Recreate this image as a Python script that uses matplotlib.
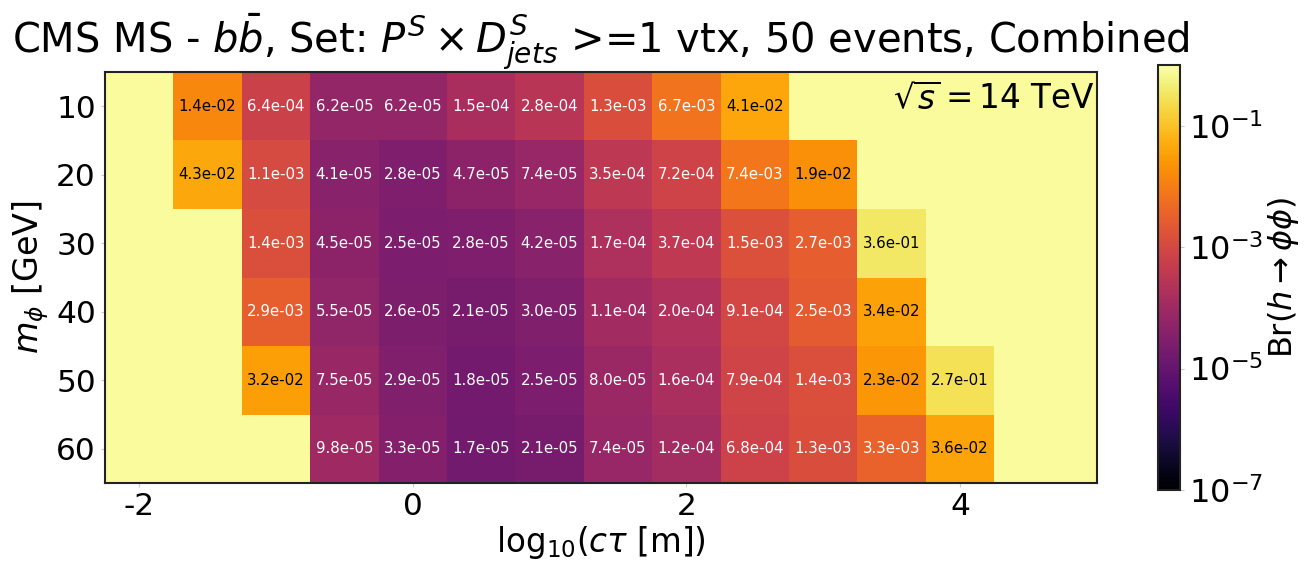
import numpy as np
import matplotlib
matplotlib.use("Agg")
import matplotlib.pyplot as plt
from matplotlib.colors import LogNorm

plt.rcParams['axes.unicode_minus'] = False

# bin centres
log_ctau = [-2.0, -1.5, -1.0, -0.5, 0.0, 0.5, 1.0, 1.5, 2.0, 2.5, 3.0, 3.5, 4.0, 4.5]
masses = [10, 20, 30, 40, 50, 60]

nan = np.nan
br_m10 = [nan, 1.4e-02, 6.4e-04, 6.2e-05, 6.2e-05, 1.5e-04, 2.8e-04, 1.3e-03, 6.7e-03, 4.1e-02, nan, nan, nan, nan]
br_m20 = [nan, 4.3e-02, 1.1e-03, 4.1e-05, 2.8e-05, 4.7e-05, 7.4e-05, 3.5e-04, 7.2e-04, 7.4e-03, 1.9e-02, nan, nan, nan]
br_m30 = [nan, nan, 1.4e-03, 4.5e-05, 2.5e-05, 2.8e-05, 4.2e-05, 1.7e-04, 3.7e-04, 1.5e-03, 2.7e-03, 3.6e-01, nan, nan]
br_m40 = [nan, nan, 2.9e-03, 5.5e-05, 2.6e-05, 2.1e-05, 3.0e-05, 1.1e-04, 2.0e-04, 9.1e-04, 2.5e-03, 3.4e-02, nan, nan]
br_m50 = [nan, nan, 3.2e-02, 7.5e-05, 2.9e-05, 1.8e-05, 2.5e-05, 8.0e-05, 1.6e-04, 7.9e-04, 1.4e-03, 2.3e-02, 2.7e-01, nan]
br_m60 = [nan, nan, nan, 9.8e-05, 3.3e-05, 1.7e-05, 2.1e-05, 7.4e-05, 1.2e-04, 6.8e-04, 1.3e-03, 3.3e-03, 3.6e-02, nan]

br = np.array([br_m10, br_m20, br_m30, br_m40, br_m50, br_m60])

xc = np.array(log_ctau)
yc = np.array(masses, dtype=float)
x_edges = np.append(xc - 0.25, xc[-1] + 0.25)
y_edges = np.append(yc - 5, yc[-1] + 5)

fig = plt.figure(figsize=(13.12, 5.71), dpi=100)
ax = fig.add_axes([0.080, 0.154, 0.756, 0.720])
cax = fig.add_axes([0.8826, 0.142, 0.0168, 0.744])

cmap = plt.get_cmap('inferno')
norm = LogNorm(vmin=1e-7, vmax=1)
ax.set_facecolor('#f9fb9d')
mesh = ax.pcolormesh(x_edges, y_edges, np.ma.masked_invalid(br), cmap=cmap, norm=norm)

for i, m in enumerate(masses):
    for j, x in enumerate(log_ctau):
        v = br[i, j]
        if np.isnan(v):
            continue
        col = 'black' if v > 1e-2 else 'white'
        ax.text(x, m, '%.1e' % v, ha='center', va='center', fontsize=10.8, color=col)

ax.set_xlim(-2.25, 5.0)
ax.set_ylim(65, 5)
ax.set_xticks([-2, 0, 2, 4])
ax.set_yticks(masses)
ax.tick_params(labelsize=22.5, length=3, color='#cccccc')
for s in ax.spines.values():
    s.set_color('#222222')
    s.set_linewidth(1.5)

ax.set_xlabel(r'log$_{10}$($c\tau$ [m])', fontsize=23.5, labelpad=2)
ax.set_ylabel(r'$m_{\phi}$ [GeV]', fontsize=24, labelpad=4)
ax.set_title(r'CMS MS - $b\bar{b}$, Set: $P^S \times D^S_{jets}$ >=1 vtx, 50 events, Combined',
             fontsize=28.8, pad=5)
ax.text(0.998, 0.975, r'$\sqrt{s} = 14$ TeV', transform=ax.transAxes,
        ha='right', va='top', fontsize=23.5)

cb = fig.colorbar(mesh, cax=cax)
cb.set_ticks([1e-7, 1e-5, 1e-3, 1e-1])
cb.minorticks_off()
cb.ax.tick_params(labelsize=23, length=3, color='#cccccc')
cb.outline.set_edgecolor('#222222')
cb.outline.set_linewidth(1.5)
cb.set_label(r'Br$(h\rightarrow\phi\phi)$', fontsize=23, labelpad=2)

fig.savefig('out.png', dpi=100)
